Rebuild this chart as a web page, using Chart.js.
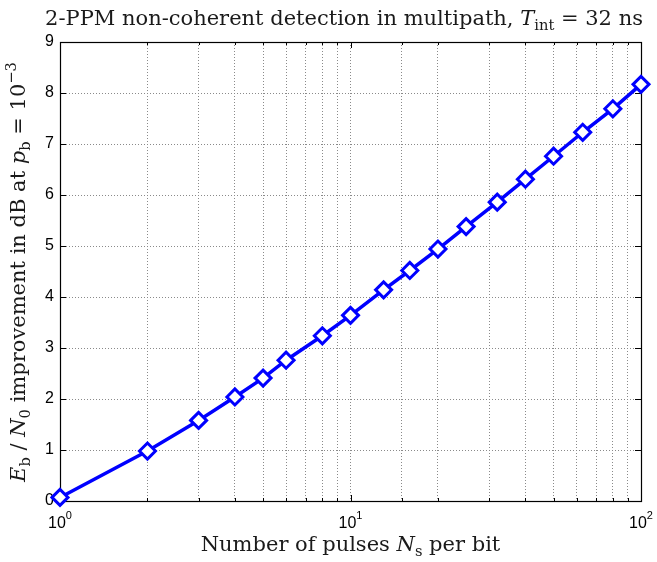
<!DOCTYPE html>
<html>
<head>
<meta charset="utf-8">
<script src="https://cdn.jsdelivr.net/npm/chart.js@4"></script>
<style>
  body { margin: 0; background: #fff; }
</style>
</head>
<body>
<canvas id="chart" width="657" height="562"></canvas>
<script>
// number of pulses per bit and the Eb/N0 gain
const pulses = [1, 2, 3, 4, 5, 6, 8, 10, 13, 16, 20, 25, 32, 40, 50, 63, 80, 100];
const gainDb = [0.07, 0.98, 1.58, 2.04, 2.41, 2.76, 3.24, 3.64, 4.14, 4.52, 4.94, 5.38, 5.86, 6.31, 6.76, 7.23, 7.69, 8.17];

const xTickValues = [1, 10, 100];
const xTickExps = ['0', '1', '2'];
const yTickValues = [0, 1, 2, 3, 4, 5, 6, 7, 8, 9];

const titleRuns = [
    { t: '2-PPM non-coherent detection in multipath, ' },
    { t: 'T', i: true }, { t: 'int', sub: true },
    { t: ' = 32 ns' }
];
const xTitleRuns = [
    { t: 'Number of pulses ' }, { t: 'N', i: true }, { t: 's', sub: true }, { t: ' per bit' }
];
const yTitleRuns = [
    { t: 'E', i: true }, { t: 'b', sub: true }, { t: ' / ' },
    { t: 'N', i: true }, { t: '0', sub: true },
    { t: ' improvement in dB at ' },
    { t: 'p', i: true }, { t: 'b', sub: true },
    { t: ' = 10' }, { t: '\u22123', sup: true }
];

const SERIF = '"DejaVu Serif", "Liberation Serif", serif';
const SANS = '"Liberation Sans", Arial, sans-serif';

function drawRich(ctx, runs, cx, baseline, size) {
    let total = 0;
    const parts = runs.map(r => {
        const fs = (r.sub || r.sup) ? size * 0.7 : size;
        const font = (r.i ? 'italic ' : '') + fs + 'px ' + SERIF;
        ctx.font = font;
        const w = ctx.measureText(r.t).width;
        total += w;
        return { t: r.t, font, w, dy: r.sub ? size * 0.22 : (r.sup ? -size * 0.42 : 0) };
    });
    let x = cx - total / 2;
    ctx.textAlign = 'left';
    ctx.textBaseline = 'alphabetic';
    parts.forEach(p => {
        ctx.font = p.font;
        ctx.fillText(p.t, x, baseline + p.dy);
        x += p.w;
    });
}

const framePlugin = {
    id: 'frame',
    beforeDatasetsDraw(chart) {
        const { ctx, chartArea: a, scales: { x, y } } = chart;
        ctx.save();
        ctx.strokeStyle = '#000';
        ctx.lineWidth = 1.2;
        ctx.strokeRect(a.left + 0.5, a.top + 0.5, a.right - a.left, a.bottom - a.top);
        ctx.lineWidth = 1;
        ctx.beginPath();
        x.ticks.forEach(t => {
            const px = Math.round(x.getPixelForValue(t.value)) + 0.5;
            const len = t.major ? 6 : 3;
            ctx.moveTo(px, a.bottom); ctx.lineTo(px, a.bottom - len);
            ctx.moveTo(px, a.top); ctx.lineTo(px, a.top + len);
        });
        yTickValues.forEach(v => {
            const py = Math.round(y.getPixelForValue(v)) + 0.5;
            ctx.moveTo(a.left, py); ctx.lineTo(a.left + 6, py);
            ctx.moveTo(a.right, py); ctx.lineTo(a.right - 6, py);
        });
        ctx.stroke();
        ctx.restore();
    },
    afterDraw(chart) {
        const { ctx, chartArea: a, scales: { x } } = chart;
        ctx.save();
        ctx.fillStyle = '#000';
        // x tick labels 10^n
        xTickValues.forEach((v, k) => {
            const px = x.getPixelForValue(v);
            ctx.font = '16px ' + SANS;
            const w1 = ctx.measureText('10').width;
            ctx.font = '11px ' + SANS;
            const w2 = ctx.measureText(xTickExps[k]).width;
            const left = px - (w1 + w2) / 2;
            ctx.textAlign = 'left';
            ctx.textBaseline = 'alphabetic';
            ctx.font = '16px ' + SANS;
            ctx.fillText('10', left, a.bottom + 27);
            ctx.font = '11px ' + SANS;
            ctx.fillText(xTickExps[k], left + w1, a.bottom + 18);
        });
        ctx.fillStyle = '#1a1a1a';
        drawRich(ctx, titleRuns, 344, 25, 21);
        drawRich(ctx, xTitleRuns, (a.left + a.right) / 2, 551, 21);
        ctx.translate(25, 272);
        ctx.rotate(-Math.PI / 2);
        drawRich(ctx, yTitleRuns, 0, 0, 21);
        ctx.restore();
    }
};

new Chart(document.getElementById('chart'), {
    type: 'line',
    data: {
        datasets: [{
            data: pulses.map((p, k) => ({ x: p, y: gainDb[k] })),
            borderColor: '#0000ff',
            borderWidth: 3.5,
            backgroundColor: '#ffffff',
            pointStyle: 'rectRot',
            pointRadius: 8,
            pointBorderWidth: 3,
            pointBorderColor: '#0000ff',
            pointBackgroundColor: '#ffffff',
            tension: 0,
            clip: false
        }]
    },
    options: {
        responsive: false,
        animation: false,
        layout: { padding: { left: 0, right: 16, top: 42, bottom: 0 } },
        plugins: { legend: { display: false }, title: { display: false }, tooltip: { enabled: false } },
        scales: {
            x: {
                type: 'logarithmic',
                min: 1,
                max: 100,
                ticks: { display: false, autoSkip: false },
                grid: { color: '#8a8a8a', lineWidth: 1, drawTicks: false },
                border: { display: false, dash: [1, 2] },
                afterFit(s) { s.height = 61; }
            },
            y: {
                min: 0,
                max: 9,
                ticks: { stepSize: 1, color: '#000', padding: 6, font: { family: SANS, size: 16 } },
                grid: { color: '#8a8a8a', lineWidth: 1, drawTicks: false },
                border: { display: false, dash: [1, 2] },
                afterFit(s) { s.width = 60; }
            }
        }
    },
    plugins: [framePlugin]
});
</script>
</body>
</html>
